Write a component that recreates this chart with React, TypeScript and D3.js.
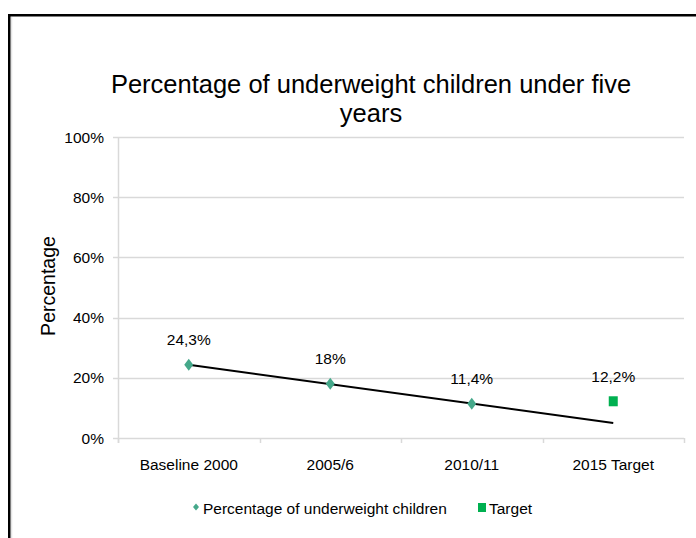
import React from "react";
import * as d3 from "d3";

// Survey rounds and measured share of underweight children (percent)
const categories = ["Baseline 2000", "2005/6", "2010/11", "2015 Target"];
const measuredCats = ["Baseline 2000", "2005/6", "2010/11"];
const measuredValues = [24.3, 18, 11.4];
const measuredLabels = ["24,3%", "18%", "11,4%"];
const targetCat = "2015 Target";
const targetValue = 12.2;
const targetLabel = "12,2%";
const yTicks = [0, 20, 40, 60, 80, 100];

const W = 696;
const H = 538;
const plot = { left: 118, right: 684, top: 137, bottom: 438 };
const FONT = "'Liberation Sans', Arial, sans-serif";
const GRID = "#d9d9d9";
const DIAMOND = "#45a88a";
const SQUARE = "#00b050";

export default function App() {
  const x = d3
    .scaleBand<string>()
    .domain(categories)
    .range([plot.left, plot.right])
    .paddingInner(0)
    .paddingOuter(0);
  const y = d3.scaleLinear().domain([0, 100]).range([plot.bottom, plot.top]);
  const cx = (c: string) => (x(c) as number) + x.bandwidth() / 2;

  // Linear trend fitted to the measured points, extended to the target year
  const xs = measuredCats.map((c) => categories.indexOf(c) + 1);
  const mx = d3.mean(xs) as number;
  const my = d3.mean(measuredValues) as number;
  const slope =
    d3.sum(xs.map((v, i) => (v - mx) * (measuredValues[i] - my))) /
    d3.sum(xs.map((v) => (v - mx) * (v - mx)));
  const intercept = my - slope * mx;
  const trendPts: [number, number][] = [1, categories.length].map((i) => [
    cx(categories[i - 1]),
    y(intercept + slope * i),
  ]);
  const trendLine = d3.line()(trendPts) as string;

  const diamond = (px: number, py: number, w: number, h: number) =>
    `M${px},${py - h / 2}L${px + w / 2},${py}L${px},${py + h / 2}L${px - w / 2},${py}Z`;

  const bounds = [plot.left, ...categories.map((c) => (x(c) as number) + x.bandwidth())];

  return (
    <svg
      width={W}
      height={H}
      style={{ position: "absolute", left: 0, top: 0, background: "#fff" }}
      fontFamily={FONT}
    >
      <rect x={0} y={0} width={W} height={H} fill="#fff" />
      {/* chart frame */}
      <line x1={11.5} y1={17} x2={11.5} y2={H} stroke="#e4e4e4" strokeWidth={1.5} />
      <rect x={9.25} y={15.25} width={900} height={900} fill="none" stroke="#000" strokeWidth={2.5} />

      {/* title */}
      <text x={371} y={93} textAnchor="middle" fontSize={25.5} fill="#000">
        Percentage of underweight children under five
      </text>
      <text x={371} y={122} textAnchor="middle" fontSize={25.5} fill="#000">
        years
      </text>

      {/* horizontal gridlines and y ticks */}
      {yTicks.map((t) => (
        <g key={t}>
          <line
            x1={plot.left - 5}
            x2={plot.right}
            y1={Math.round(y(t)) + 0.5}
            y2={Math.round(y(t)) + 0.5}
            stroke={GRID}
            strokeWidth={1.5}
          />
          <text x={104} y={y(t) + 5.5} textAnchor="end" fontSize={15.5} fill="#000">
            {t}%
          </text>
        </g>
      ))}
      {/* left axis line */}
      <line
        x1={plot.left + 0.5}
        x2={plot.left + 0.5}
        y1={plot.top}
        y2={plot.bottom + 5}
        stroke={GRID}
        strokeWidth={1.5}
      />
      {/* category boundary ticks */}
      {bounds.map((b, i) => (
        <line
          key={i}
          x1={Math.round(b) + 0.5}
          x2={Math.round(b) + 0.5}
          y1={plot.bottom}
          y2={plot.bottom + 5}
          stroke={GRID}
          strokeWidth={1.5}
        />
      ))}
      {categories.map((c) => (
        <text key={c} x={cx(c)} y={470} textAnchor="middle" fontSize={15.5} fill="#000">
          {c}
        </text>
      ))}

      {/* y axis title */}
      <text
        transform={`translate(55,286) rotate(-90)`}
        textAnchor="middle"
        fontSize={19.5}
        fill="#000"
      >
        Percentage
      </text>

      {/* trend line */}
      <path d={trendLine} fill="none" stroke="#000" strokeWidth={2} />

      {/* measured points */}
      {measuredCats.map((c, i) => (
        <g key={c}>
          <path d={diamond(cx(c), y(measuredValues[i]), 9, 12)} fill={DIAMOND} />
          <text
            x={cx(c)}
            y={y(measuredValues[i]) - 20}
            textAnchor="middle"
            fontSize={15.5}
            fill="#000"
          >
            {measuredLabels[i]}
          </text>
        </g>
      ))}

      {/* target point */}
      <rect
        x={cx(targetCat) - 4.5}
        y={y(targetValue) - 5}
        width={9}
        height={10}
        fill={SQUARE}
      />
      <text
        x={cx(targetCat)}
        y={y(targetValue) - 19}
        textAnchor="middle"
        fontSize={15.5}
        fill="#000"
      >
        {targetLabel}
      </text>

      {/* legend */}
      <path d={diamond(196, 507, 6, 7)} fill={DIAMOND} />
      <text x={203} y={514} fontSize={15.5} fill="#000">
        Percentage of underweight children
      </text>
      <rect x={478} y={503} width={8} height={9} fill={SQUARE} />
      <text x={489} y={514} fontSize={15.5} fill="#000">
        Target
      </text>
    </svg>
  );
}
